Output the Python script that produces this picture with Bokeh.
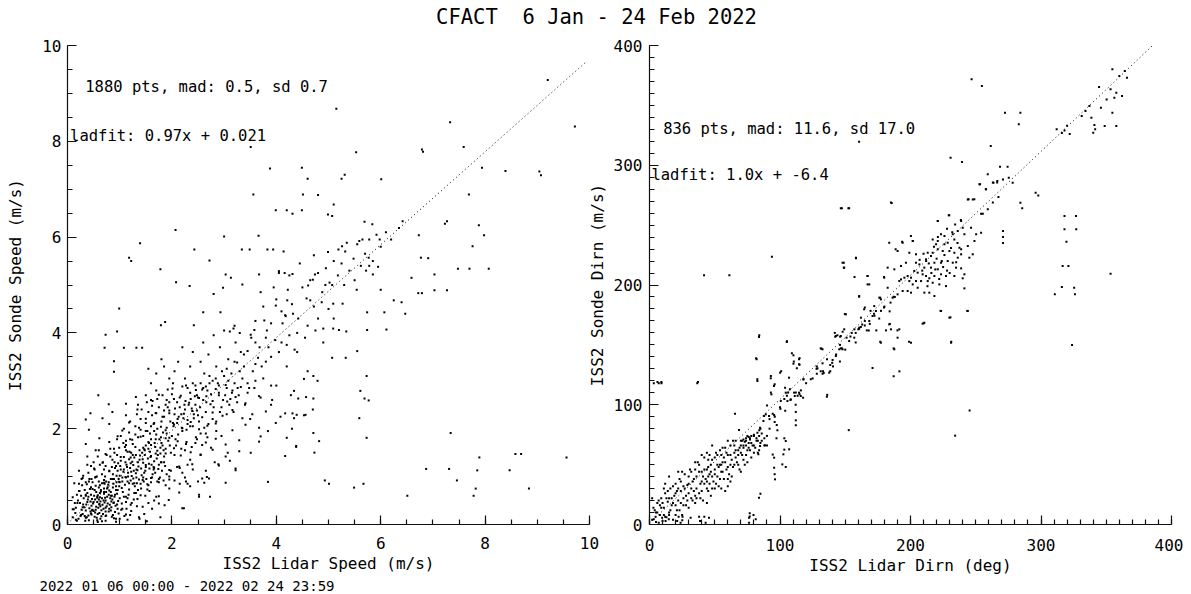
from bokeh.plotting import figure
from bokeh.models import Range1d, FixedTicker, Label, Div, Title
from bokeh.layouts import row, column
from bokeh.embed import file_html
from bokeh.resources import INLINE

FONT = "DejaVu Sans Mono"

# ---------------- data: wind speed (lidar, sonde) ----------------
speed_core = [(0.21,0.12),(0.27,0.31),(0.33,0.18),(0.36,0.42),(0.41,0.09),(0.44,0.27),(0.47,0.53),(0.52,0.16),(0.55,0.37),(0.58,0.61),(0.61,0.24),(0.63,0.48),(0.66,0.07),(0.69,0.33),(0.72,0.56),(0.74,0.19),(0.77,0.44),(0.8,0.71),(0.83,0.29),(0.86,0.52),(0.89,0.13),(0.92,0.39),(0.95,0.64),(0.98,0.23),(0.31,0.55),(0.38,0.66),(0.43,0.74),(0.49,0.44),(0.54,0.81),(0.59,0.35),(0.64,0.69),(0.68,0.22),(0.71,0.85),(0.76,0.58),(0.81,0.41),(0.87,0.77),(0.91,0.26),(0.97,0.49),(0.24,0.45),(0.29,0.22),(0.35,0.29),(0.39,0.52),(0.46,0.39),(0.51,0.6),(0.57,0.47),(0.62,0.57),(0.67,0.41),(0.73,0.5),(0.79,0.62),(0.84,0.36),(0.9,0.58),(0.96,0.33),(0.15,0.24),(0.18,0.08),(0.26,0.6),(0.32,0.36),(0.4,0.19),(0.45,0.62),(0.5,0.28),(0.56,0.14),(0.6,0.52),(0.65,0.3),(0.7,0.64),(0.75,0.38),(0.82,0.55),(0.88,0.45),(0.93,0.72),(1.0,0.55),(1.03,0.31),(1.06,0.68),(1.09,0.18),(1.12,0.47),(1.17,0.62),(1.22,0.28),(1.27,0.52),(1.33,0.38),(1.4,0.61),(1.47,0.22),(1.55,0.45),(1.62,0.33),(1.7,0.58),(1.78,0.15),(1.86,0.4),(0.12,0.32),(0.2,0.5),(0.23,0.7),(0.37,0.84),(0.42,0.95),(0.48,0.88),(0.53,0.98),(0.6,0.9),(0.35,0.6),(0.53,0.52),(0.61,0.43),(0.71,0.46),(0.47,0.3),(0.57,0.58),(0.63,0.38),(0.79,0.27),(0.52,0.72),(0.44,0.48),(0.66,0.55),(0.74,0.68),(0.85,0.6),(0.34,0.08),(0.58,0.05),(0.93,0.06),(1.15,0.1),(1.38,0.12),(1.52,0.07)]

speed_core2 = [(0.25,0.18),(0.3,0.42),(0.37,0.15),(0.42,0.34),(0.46,0.21),(0.5,0.47),(0.54,0.31),(0.58,0.22),(0.62,0.66),(0.65,0.17),(0.69,0.5),(0.73,0.27),(0.76,0.75),(0.8,0.33),(0.84,0.48),(0.87,0.2),(0.91,0.62),(0.95,0.42),(0.99,0.8),(1.04,0.44),(1.08,0.58),(1.13,0.33),(1.18,0.73),(1.23,0.45),(1.28,0.66),(1.34,0.53),(1.41,0.75),(1.49,0.6),(1.57,0.7),(1.66,0.5),(0.55,0.68),(0.6,0.77),(0.66,0.86),(0.7,0.75),(0.78,0.83),(0.83,0.68),(0.89,0.95),(0.94,0.88),(1.0,1.02),(1.05,0.9),(1.11,1.3),(1.16,1.0),(1.21,1.4),(1.26,0.96),(1.32,1.15),(1.38,1.35),(1.43,1.5),(1.49,1.12),(1.55,1.58),(1.61,1.25),(1.67,1.7),(1.73,1.45),(1.79,1.82),(1.84,1.55),(1.9,1.9),(1.96,1.65),(2.02,2.12),(2.07,1.78),(2.13,2.25),(2.19,2.02),(2.24,2.5),(2.3,2.1),(2.36,2.62),(2.42,2.22),(2.48,2.7),(2.54,2.45),(2.6,2.85),(2.66,2.68),(2.72,3.1),(2.78,2.58),(2.84,3.05),(2.9,2.9),(2.96,3.2),(3.02,2.7),(3.08,3.0),(3.14,3.15),(3.2,3.4),(3.26,2.85),(3.32,3.6),(3.38,3.3),(0.9,1.3),(0.82,1.42),(0.7,1.15),(0.62,1.25),(1.1,1.62),(1.2,1.78),(1.3,1.88),(1.4,1.98),(1.5,2.12),(1.6,2.05),(1.35,2.5),(1.5,2.7),(1.7,2.8),(1.9,2.6),(2.0,2.72),(2.2,2.88),(2.4,2.95),(1.25,0.85),(1.45,0.98),(1.65,1.15),(1.85,1.3),(2.05,1.45),(2.25,1.55),(2.45,1.7),(2.65,1.9),(2.85,2.15),(3.05,2.3),(3.25,2.55),(3.45,2.75),(1.15,0.55),(1.35,0.72),(1.55,0.82),(1.75,0.95),(1.95,1.0),(2.15,1.18),(2.35,1.35),(2.55,1.45),(2.75,1.6),(2.95,1.85),(0.45,0.78),(0.4,0.58),(0.33,0.72),(0.27,0.95),(0.22,0.85),(0.18,0.62),(0.14,0.45),(0.1,0.15),(0.16,0.35),(0.53,0.25),(0.63,0.12),(0.73,0.08),(0.85,0.16),(1.0,0.12),(1.2,0.2)]

speed_cloud = [(2.01,2.84),(2.27,2.9),(2.46,2.81),(2.65,2.88),(2.84,2.83),(3.03,2.91),(3.16,2.8),(3.32,2.87),(3.48,2.85),(1.12,2.52),(1.31,2.66),(1.63,2.58),(1.75,2.71),(1.88,2.5),(2.04,2.62),(2.17,2.69),(2.33,2.54),(2.52,2.64),(2.74,2.51),(2.90,2.7),(3.06,2.57),(3.22,2.66),(3.41,2.53),(3.67,2.68),(3.92,2.6),(0.67,2.22),(0.86,2.35),(1.12,2.28),(1.34,2.4),(1.50,2.21),(1.69,2.33),(1.82,2.25),(1.95,2.38),(2.11,2.2),(2.23,2.31),(2.39,2.37),(2.58,2.24),(2.78,2.34),(2.97,2.27),(3.16,2.39),(3.35,2.22),(3.54,2.3),(3.80,2.36),(4.08,2.25),(4.31,2.32),(4.53,2.28),(0.41,1.98),(0.80,2.1),(1.05,1.96),(1.18,2.13),(1.37,2.02),(1.53,1.95),(1.66,2.12),(1.79,2.04),(1.88,1.97),(2.04,2.09),(2.20,2.01),(2.36,2.14),(2.52,1.99),(2.68,2.06),(2.84,2.11),(3.16,1.97),(3.41,2.08),(3.67,2.02),(3.99,2.12),(0.35,1.68),(0.61,1.8),(0.80,1.72),(0.96,1.84),(1.12,1.66),(1.24,1.77),(1.40,1.83),(1.56,1.7),(1.69,1.78),(1.82,1.65),(1.95,1.81),(2.11,1.74),(2.27,1.68),(2.46,1.82),(2.65,1.71),(2.84,1.79),(3.03,1.67),(3.29,1.76),(3.67,1.73),(0.38,1.42),(0.54,1.55),(0.73,1.47),(0.89,1.58),(1.02,1.41),(1.15,1.52),(1.31,1.45),(1.47,1.57),(1.60,1.43),(1.72,1.54),(1.88,1.48),(2.04,1.59),(2.17,1.44),(2.36,1.51),(2.55,1.46),(2.78,1.56),(3.03,1.42),(3.29,1.53),(0.22,1.12),(0.38,1.25),(0.51,1.17),(0.67,1.29),(0.80,1.11),(0.93,1.22),(1.08,1.15),(1.21,1.28),(1.34,1.13),(1.50,1.24),(1.66,1.18),(1.79,1.3),(1.95,1.14),(2.14,1.21),(2.39,1.26),(2.65,1.12),(2.90,1.23),(3.22,1.17),(0.13,0.86),(0.29,0.97),(0.41,0.9),(0.54,0.99),(0.70,0.87),(0.86,0.95),(0.99,0.89),(1.12,0.98),(1.28,0.86),(1.44,0.93),(1.60,0.97),(1.75,0.88),(1.95,0.94),(2.27,0.9),(2.58,0.96),(3.03,0.87),(0.10,0.57),(0.22,0.7),(0.35,0.62),(0.48,0.74),(0.57,0.56),(0.70,0.68),(0.83,0.6),(0.96,0.72),(1.12,0.58),(1.31,0.66),(1.53,0.73),(1.75,0.59),(2.14,0.67),(2.52,0.62),(0.10,0.32),(0.19,0.45),(0.29,0.36),(0.38,0.47),(0.48,0.31),(0.61,0.42),(0.73,0.35),(0.89,0.46),(1.05,0.33),(1.21,0.41),(1.44,0.37),(1.75,0.44),(2.20,0.34),(0.16,0.1),(0.26,0.2),(0.35,0.14),(0.45,0.23),(0.57,0.09),(0.73,0.18),(0.93,0.12),(1.12,0.21),(1.37,0.15),(3.6,3.0),(3.8,3.4),(4.0,2.9),(4.2,3.3),(4.4,3.6),(4.6,3.2),(3.5,2.2),(3.9,2.5),(4.3,2.0),(4.7,2.4),(4.9,3.8),(5.1,4.3),(3.3,4.0),(3.6,3.8)]

speed_mid = [(0.62,0.82),(0.66,1.05),(0.7,0.93),(0.73,1.22),(0.77,0.78),(0.8,1.12),(0.83,0.95),(0.86,1.35),(0.88,0.85),(0.91,1.18),(0.94,1.02),(0.97,1.28),(1.0,0.88),(1.02,1.15),(1.05,0.98),(1.08,1.41),(1.1,0.83),(1.13,1.25),(1.16,1.08),(1.19,1.52),(1.21,0.92),(1.24,1.31),(1.27,1.12),(1.3,1.62),(1.33,0.86),(1.36,1.21),(1.39,1.44),(1.42,1.03),(1.45,1.29),(1.48,1.55),(1.51,0.95),(1.54,1.38),(1.57,1.17),(1.6,1.66),(1.63,1.05),(1.66,1.32),(1.69,1.48),(1.72,0.9),(1.75,1.25),(1.78,1.6),(1.81,1.12),(1.85,1.42),(1.88,0.82),(0.68,1.3),(0.75,1.45),(0.82,1.58),(0.9,1.5),(0.99,1.6),(1.07,1.7),(0.64,0.72),(0.72,1.0),(0.79,0.88),(0.85,1.2),(0.93,0.8),(0.96,1.12),(1.01,1.22),(1.04,0.76),(1.11,0.99),(1.14,1.2),(1.18,0.86),(1.2,1.18),(1.23,1.01),(1.26,1.24),(1.29,0.8),(1.31,1.07),(1.35,1.3),(1.37,0.94),(1.41,1.17),(1.44,1.36),(1.47,1.08),(1.5,1.2),(1.53,0.84),(1.56,1.27),(1.59,1.41),(1.62,0.98),(1.65,1.2),(1.68,1.08),(1.71,1.38),(1.74,1.16),(1.77,0.98),(1.8,1.3),(1.84,0.92),(1.87,1.22),(1.9,1.05),(0.56,1.0),(0.52,1.15),(0.46,0.95),(0.4,1.08),(0.35,0.88),(0.5,1.3),(0.58,1.42),(0.45,1.22),(0.6,1.55),(0.3,1.02),(0.28,0.82),(0.95,1.45),(1.12,1.55),(1.25,1.45),(1.18,1.36),(1.02,1.33),(0.87,1.05),(0.74,0.9),(0.98,0.95),(1.07,1.1),(1.22,1.1),(1.32,0.98),(1.15,0.9),(1.4,0.85),(1.46,0.9),(1.6,0.88),(1.95,0.75),(2.05,0.92),(2.15,0.85),(2.25,0.98),(2.35,0.8),(2.5,0.9),(2.62,0.87),(1.98,1.12),(2.1,1.2),(2.2,1.08),(2.3,1.25),(2.4,1.15)]

speed_upper = [(1.12,1.75),(1.18,1.92),(1.25,1.68),(1.3,2.05),(1.35,1.82),(1.4,2.2),(1.45,1.6),(1.5,1.95),(1.55,2.35),(1.6,1.78),(1.65,2.1),(1.7,1.88),(1.75,2.45),(1.8,1.7),(1.85,2.25),(1.9,2.02),(1.95,2.55),(2.0,1.85),(2.05,2.3),(2.1,2.12),(2.15,2.65),(2.2,1.95),(2.25,2.4),(2.3,2.18),(2.35,2.75),(2.4,2.05),(2.45,2.5),(2.5,2.28),(2.55,1.9),(2.6,2.6),(2.65,2.35),(2.7,2.1),(2.75,2.72),(2.8,2.45),(1.22,1.5),(1.28,1.4),(1.38,1.55),(1.48,1.45),(1.58,1.52),(1.68,1.62),(1.78,1.48),(1.88,1.58),(1.98,1.5),(2.08,1.65),(2.18,1.58),(2.28,1.72),(2.38,1.62),(2.48,1.78),(2.58,1.66),(2.68,1.82),(1.42,2.4),(1.52,2.55),(1.62,2.48),(1.72,2.62),(1.82,2.7),(1.92,2.82),(2.02,2.95),(1.33,2.3),(1.2,2.15),(1.08,2.0),(1.02,1.85),(0.95,1.78),(1.6,2.6),(1.88,1.8),(1.93,1.75),(1.97,2.15),(2.12,1.88),(2.22,2.22),(2.32,2.5),(2.42,2.3),(2.52,2.15),(2.62,2.02),(1.72,2.0),(1.8,2.15),(1.66,1.95),(1.55,1.72),(1.45,1.85),(1.62,2.28),(2.06,2.42),(2.26,2.58),(2.44,2.68),(2.58,2.82),(2.72,2.95),(1.85,2.38),(1.95,2.32),(2.15,2.45),(2.35,2.05),(2.48,2.38),(2.66,2.55),(2.78,2.2),(2.85,1.95),(2.92,2.35),(2.98,2.6),(1.76,1.78),(1.83,1.92),(2.03,2.05),(2.18,2.3),(2.28,1.98),(2.38,2.42),(1.5,1.65),(1.58,1.9),(1.7,2.32),(1.92,2.45),(2.1,2.55),(2.3,2.85),(2.55,2.95),(2.9,2.75),(3.05,2.85),(3.1,2.5),(3.2,2.95)]

speed_high = [(2.25,3.05),(2.35,3.3),(2.45,2.9),(2.55,3.4),(2.62,3.15),(2.7,3.55),(2.78,3.0),(2.85,3.3),(2.92,3.7),(3.0,3.1),(3.08,3.45),(3.15,2.75),(3.22,3.8),(3.3,3.2),(3.38,3.55),(3.45,2.95),(3.52,3.9),(3.6,3.35),(3.68,3.7),(3.75,3.05),(3.82,4.05),(3.9,3.5),(3.98,3.85),(2.4,3.6),(2.6,3.8),(2.8,3.95),(3.0,4.05),(3.2,4.15),(2.5,2.65),(2.68,2.8),(2.88,2.95),(3.05,3.25),(3.25,3.38),(3.45,3.62),(3.65,3.48),(3.85,3.7),(3.35,3.05),(3.55,3.2),(3.72,3.3),(3.12,2.62),(3.28,2.7),(3.4,2.5),(3.58,2.85),(3.7,2.65),(3.9,2.9),(2.95,2.45),(3.18,2.35),(2.2,3.7),(2.12,3.4),(2.05,3.2),(1.95,3.05),(1.85,3.3),(1.8,3.45),(1.7,3.15),(1.6,2.95),(1.55,3.25),(4.05,3.6),(4.12,4.2),(4.2,3.75),(4.25,3.95),(4.32,4.4),(4.18,4.35),(3.6,4.25),(3.75,4.55),(3.9,4.2),(4.0,4.7),(4.1,4.45),(4.22,4.9),(4.3,4.6),(4.42,4.3),(4.5,4.95),(4.58,4.72),(4.65,5.1),(4.72,4.55),(4.8,5.25),(4.88,4.85),(4.95,5.35),(5.02,5.05),(5.1,5.5),(5.18,5.2),(5.25,5.45),(5.32,5.7),(5.4,5.3),(5.48,5.55),(5.55,5.85),(5.62,5.4),(5.7,5.65),(5.78,5.95),(5.85,5.5),(5.92,6.05),(6.0,5.8),(6.1,6.1),(6.2,5.95),(4.4,4.0),(4.6,4.15),(4.8,4.3),(5.0,4.5),(3.8,3.9),(4.1,3.8),(4.35,3.65),(4.55,3.9),(4.75,4.05),(3.95,4.95),(4.25,5.2),(4.45,5.45),(3.7,4.85),(4.05,5.25),(5.3,5.0),(5.5,5.1),(5.65,5.95)]

speed_scatter = [(3.84,0.89),(4.93,0.92),(5.01,0.85),(5.49,0.77),(5.67,0.85),(6.51,0.60),(4.38,1.62),(4.71,1.91),(4.82,1.74),(5.73,1.81),(5.59,2.22),(5.69,2.63),(5.77,2.59),(5.61,2.79),(5.73,3.10),(5.55,3.62),(5.33,3.48),(5.07,3.48),(3.70,1.84),(3.84,1.95),(4.20,1.81),(4.34,2.22),(4.42,2.63),(4.57,2.66),(4.53,3.04),(4.71,3.10),(4.79,3.00),(4.28,2.70),(4.34,2.79),(4.17,2.32),(4.39,2.29),(4.56,2.29),(4.71,2.63),(3.07,1.50),(3.51,1.50),(3.11,1.33),(3.22,1.13),(2.67,0.99),(2.52,0.58),(2.23,0.34),(1.94,0.51),(2.30,0.85),(2.73,0.58),(2.82,1.30),(2.89,1.26),(2.71,0.96),(4.17,1.43),(4.73,1.50),(4.38,1.64),(7.34,1.91),(6.87,1.16),(7.31,1.16),(7.46,0.92),(7.82,0.75),(7.78,0.60),(7.85,1.13),(7.89,1.40),(8.47,1.13),(8.58,1.47),(8.69,1.47),(8.84,0.75),(9.56,1.40),(0.99,4.51),(0.73,3.96),(0.95,4.03),(0.71,3.69),(1.08,3.69),(1.32,3.69),(1.43,3.69),(0.89,3.41),(0.89,3.19),(0.59,2.70),(0.44,2.32),(0.35,2.19),(0.79,2.51),(1.87,4.23),(1.79,4.16),(2.42,4.16),(2.60,4.43),(2.93,4.43),(3.11,4.03),(3.18,4.09),(3.51,3.96),(3.58,4.06),(3.77,4.26),(3.99,4.57),(4.17,4.37),(4.21,4.68),(4.65,4.68),(4.87,4.64),(5.09,4.61),(5.27,4.61),(4.90,4.09),(5.09,4.09),(5.20,4.06),(5.34,4.03),(5.74,4.06),(6.11,4.07),(5.74,4.43),(6.07,4.43),(6.40,4.64),(6.47,4.40),(6.25,4.68)]

speed_outliers = [(5.15,8.68),(7.33,8.40),(9.20,9.28),(9.72,8.31),(3.51,7.88),(6.79,7.83),(6.81,7.78),(7.59,7.88),(5.53,7.77),(3.88,7.43),(4.49,7.45),(4.60,7.22),(5.31,7.30),(5.25,7.22),(6.01,7.21),(7.94,7.45),(8.39,7.38),(9.04,7.37),(9.07,7.29),(3.56,6.89),(4.51,6.89),(4.80,6.88),(5.10,6.68),(7.69,6.89),(4.20,6.56),(4.31,6.49),(4.49,6.56),(2.07,6.15),(1.39,5.87),(1.18,5.57),(1.22,5.50),(1.78,5.33),(2.08,5.06),(2.34,4.98),(2.43,5.74),(2.72,5.51),(3.00,6.01),(3.34,5.74),(3.49,5.74),(3.83,5.74),(3.94,5.74),(4.14,5.70),(3.66,6.03),(3.99,6.56),(4.99,6.47),(5.07,6.44),(5.69,6.32),(5.84,6.27),(6.42,6.33),(6.35,6.19),(7.23,6.28),(7.27,6.33),(7.88,6.25),(7.98,6.04),(6.73,6.04),(7.76,5.81),(7.48,5.34),(7.70,5.34),(8.07,5.34),(6.77,5.57),(6.91,5.56),(7.03,5.22),(6.59,5.15),(7.27,4.89),(7.03,4.89),(6.72,4.83),(6.79,4.83),(4.72,5.62),(4.74,5.22),(4.99,5.69),(5.19,5.74),(5.26,5.81),(5.35,5.88),(5.59,5.92),(5.77,5.57),(5.98,5.95),(3.03,5.22),(3.13,5.15),(3.35,5.01),(3.67,5.22),(4.05,5.29),(4.16,5.25),(4.31,5.23),(4.61,4.99),(4.70,5.11),(4.94,5.00),(5.07,5.00),(2.80,4.81),(2.98,4.94),(6.00,4.90),(5.54,4.90),(5.72,5.30),(5.85,5.22),(5.95,5.38),(5.78,5.40)]

speed_fit_slope = 0.97
speed_fit_intercept = 0.021
speed_fit_x = [0.0, 9.92]

# ---------------- data: wind direction (lidar, sonde) ----------------
dirn_low = [(2,4),(4,12),(5,2),(6,18),(8,8),(9,22),(10,3),(11,14),(12,26),(13,6),(14,19),(15,10),(16,30),(17,16),(18,4),(19,24),(20,34),(21,12),(22,20),(23,38),(24,28),(25,8),(26,16),(27,42),(28,24),(29,33),(30,14),(31,46),(32,22),(33,36),(34,28),(35,18),(36,40),(37,52),(38,26),(39,34),(40,44),(41,20),(42,56),(43,38),(44,30),(45,48),(46,42),(47,24),(48,54),(49,36),(50,46),(51,60),(52,40),(53,32),(54,50),(55,44),(56,64),(57,38),(58,52),(59,46),(60,58),(61,42),(62,66),(63,54),(64,48),(65,60),(66,70),(67,52),(68,62),(69,46),(70,66),(71,58),(72,64),(73,50),(74,70),(75,62),(76,68),(77,72),(78,56),(79,66),(80,74),(81,64),(82,70),(83,60),(84,74),(85,68),(86,76),(88,72),(90,66),(92,80),(18,32),(21,28),(24,18),(27,30),(30,26),(33,20),(36,30),(39,22),(42,34),(45,28),(48,40),(51,34),(54,38),(57,56),(60,48),(63,40),(66,56),(69,64),(72,54),(75,52),(44,46),(47,50),(50,42),(53,48),(56,52),(59,60),(62,50),(65,66),(68,58),(71,70),(74,66),(77,62),(80,60),(83,70),(35,24),(38,44),(41,40),(44,36),(47,44),(29,20),(32,30),(26,22),(23,12),(20,26),(17,22),(14,28),(11,8),(8,16),(6,10),(3,14),(2,22),(12,34),(15,40),(22,44),(40,58),(48,66),(55,30),(62,36),(70,44),(58,28),(44,18),(52,58),(46,58),(60,70),(70,70),(72,71),(74,72),(76,73),(78,74),(80,75),(73,69),(77,71),(3.3,4.3),(7.1,1.5),(9.7,5.7),(12.3,2.9),(14.8,4.3),(21.2,2.9),(23.8,1.5),(25.1,3.5),(31.5,5.7),(38.7,2.9),(43,1.5),(45.6,5.7),(76.3,5.7),(76.3,1.5),(81.4,4.3),(85,25.6),(76.8,9.3),(79.7,7.9),(76.8,6.6),(4.7,6.5),(12,6.5),(15,7.9),(22.3,6.5),(25.3,6.5),(38,6.5),(42,6.5)]

dirn_low2 = [(5,10),(7,20),(9,14),(11,30),(13,22),(16,12),(18,18),(20,8),(22,30),(24,36),(26,32),(28,16),(30,40),(32,44),(34,38),(36,22),(38,50),(40,36),(42,46),(44,60),(46,34),(48,30),(50,56),(52,50),(54,62),(56,44),(58,64),(60,38),(62,58),(64,70),(66,62),(68,50),(70,60),(72,66),(74,58),(76,64),(78,68),(80,66),(82,72),(84,62),(86,70),(88,66),(90,74),(35,46),(45,54),(55,58),(65,50),(75,74),(85,80),(50,30),(60,32),(40,28),(30,34),(20,16),(15,22),(10,18),(25,44),(35,52),(45,40),(55,50)]

dirn_trail = [(65.5,92.5),(68.6,78.9),(84.7,80.8),(87.3,86.4),(82.7,76.7),(87.8,90.6),(89.1,92),(95.5,91.4),(97.5,83.1),(98,78.7),(104.4,69.7),(107,62.8),(102.6,58.6),(95.5,55.8),(95.5,47.4),(96.2,37.7),(84.7,65.6),(83.4,58.6),(83.9,22.4),(104.4,48),(88.5,66.1),(91.6,90.6),(90,99.4),(94.4,92.5),(84.1,78.8),(95.9,85.6),(97.3,72),(103.3,72),(103.3,62.5),(101.8,50.2),(94.4,58.4),(95.9,42),(112.1,94),(112.1,87),(112.1,82.9),(83.9,156.6),(105.2,152.4),(110.3,141.3),(114.6,138),(114.6,133.8),(112.9,130.5),(110.3,134.3),(82.1,138),(82.7,119.8),(92.9,122.1),(95.4,115.7),(93.4,108.7),(100.1,126.8),(100.6,103.1),(103.9,114.2),(104.4,110.1),(105.7,103.1),(106.9,122.6),(110.8,110.1),(114.6,110.1),(118,121.3),(117.7,105.9),(115.9,107.3),(111.3,107.3),(108.3,104.5),(123.6,121.3),(128.2,125.9),(132.6,125.9),(128.7,130.4),(132.6,134.6),(137.7,126.8),(140.3,137.4),(142.8,140.7),(142.3,156.8),(146.1,156.8),(131.8,146.8),(135.9,106.7),(138.5,133.2),(146.6,147.1),(3.3,117.9),(7.1,117.9),(9.2,117.9),(36.6,117.9),(120,118),(125,122),(128,130),(133,128),(136,138),(140,135),(143,142),(146,150),(150,146),(155,160),(158,152),(162,165),(165,170),(168,162),(172,176),(176,172),(180,182),(184,178),(188,190),(100,98),(104,95),(108,104),(112,100),(116,112),(96,90),(92,88),(149.7,175.7),(165,181.2),(169.4,178.4),(172.4,174.3),(177.4,178.4),(179.7,181.2),(184.7,185.3),(160.6,163.4),(165,166.2),(166.5,162.1),(168.8,167.5),(173.8,162.1),(181.2,162.1),(184.2,167.5),(190,162.1),(176.8,152.6),(170.9,130.7),(187.1,123.8),(191.5,127.9),(187.1,147.1),(198.9,152.6),(210.1,168.1),(223,178.4),(230.6,173),(231.2,152.6),(243.5,178.4),(323.8,149.8),(245.3,95.2),(234.2,74.2),(152.7,78.8),(136.2,108.3),(105.3,153.1),(84.1,158),(81.7,138.9),(82.6,121.2),(37.1,119),(6.1,119),(9.1,119),(109.1,143),(110.6,136.1),(115,138.9),(115,133.4),(117.9,121.2),(115,108.8),(113.5,107.5),(107.6,113),(105.3,107.5),(112.1,110.2),(93,124),(93,110.2),(100.9,128),(103.3,104.8),(95.9,117.1),(100.3,96.6),(106.2,110.2),(128.2,132),(131.2,128),(133.5,126.6),(138.5,128),(140.6,132),(145.9,136.1),(147.4,147.1),(131.2,147.1),(142,160),(144,158),(148,161),(151,156),(154,157),(158,160),(160,163),(157,163),(163,167)]

dirn_cluster = [(252.8,284.1),(263.1,285.5),(266.4,285.5),(257.9,279.9),(267.4,273.5),(263.1,268.8),(254.1,259.6),(255.4,259.6),(259.2,263.2),(243.9,271.5),(247.7,271.5),(229.3,258.2),(220.9,253.4),(234.2,250.6),(238.8,253.4),(240,247.9),(241.3,242.3),(250.3,242.3),(254.1,243.7),(249,236.7),(246.4,247.9),(236.2,245.1),(232.4,242.3),(226,240.9),(223.4,242.3),(220.9,236.7),(219.6,234),(226,234),(228.5,235.3),(233.6,238.1),(237.5,231.2),(238.8,229.8),(243.9,232.6),(247.7,225.6),(245.1,222.8),(238.8,225.6),(236.2,222.8),(233.6,227),(229.8,228.4),(224.7,228.4),(220.9,229.8),(217,227),(213.2,227),(211.9,221.4),(215.7,224.2),(218.3,218.6),(223.4,218.6),(228.5,220),(232.4,218.6),(234.9,214.5),(238.8,213.9),(241.3,208.9),(240,205.6),(233.6,207.5),(227.2,207.5),(223.4,208.9),(220.9,213.1),(215.7,214.5),(210.6,214.5),(206.8,217.2),(204.2,218.6),(202.9,211.7),(205.5,210.3),(209.3,208.9),(211.9,207.5),(214.4,205.6),(218.3,207.5),(217,201.9),(213.2,203.3),(208.1,203.3),(204.2,203.3),(200.4,206.1),(197.8,207.5),(195.3,206.1),(192.7,204.7),(191.4,203.3),(199.1,203.3),(201.7,200.5),(205.5,197.7),(210.6,193.6),(214.4,193.6),(218.3,190.8),(222.1,200.5),(227.2,199.1),(241.3,197.2),(243.9,178.3),(229.8,172.7),(223.4,178.3),(210.6,168.5),(200.4,193.6),(197.8,195),(194,195),(190.1,192.2),(186.3,189.4),(182.5,197.7),(179.9,206.1),(182.5,214.5),(187.6,213.1),(192.7,215.9),(196.5,218.6),(199.1,227),(204.2,225.6),(201.7,236.7),(194,235.3),(190.1,228.4),(183.7,235.3),(176.1,189.4),(177.3,188),(172.2,182.4),(173.5,178.3),(170.9,174.1),(168.4,169.9),(164.5,179.7),(162,172.7),(160.7,164.4),(156.9,156),(153,153.2),(150.5,175.5),(149.2,163),(146.6,157.4),(142.8,157.4),(145.4,146.3),(147.9,146.3),(132.6,146.3),(167.1,207.5),(168.4,200.5),(160.7,190.8),(158.2,222.8),(147.9,218.6),(149.2,214.5),(185,268.8),(146.6,264),(153,264),(209.3,167.7),(231.1,151.8),(200.4,151.8),(187.6,146.3),(177.3,151.8),(190.1,156),(183.7,167.1),(185,163),(191.4,163),(212,220),(216,210),(220,222),(225,215),(228,212),(222,205),(214,218),(210,226),(218,232),(226,225),(231,231),(235,219),(230,210),(213,199),(207,221),(219,213),(224,220),(217,238),(209,212),(221,240),(232,244),(236,235),(228,247)]

dirn_outliers = [(246.8,371.8),(254.7,366.2),(272.4,343.9),(284.2,343.9),(283.0,334.2),(261.5,316.1),(230.7,306.3),(239.5,302.7),(268.6,298.8),(274.4,298.8),(160.6,319.7),(259.2,292.4),(263.6,285.4),(266.5,286.8),(270.9,288.0),(275.3,289.6),(278.3,285.4),(253.3,284.1),(257.7,279.9),(244.5,271.6),(248.9,271.6),(295.9,277.1),(297.9,274.8),(284.2,268.7),(285.6,264.0),(185.6,268.5),(147.4,264.0),(152.4,264.0),(220.9,253.4),(229.7,258.2),(238.6,254.3),(270.9,245.1),(270.9,240.0),(270.9,235.0),(318.0,257.6),(326.8,257.6),(318.0,246.5),(327.0,246.5),(319.5,236.2),(316.6,215.9),(321.0,215.9),(316.0,198.3),(325.4,197.7),(326.0,192.2),(310.6,192.2),(353.3,209.4),(340.9,333.6),(348.8,332.8),(357.7,332.8),(340.0,327.2),(341.5,330.0),(312,330),(316,327),(320,333),(322,326),(318,329),(344.5,365.4),(354.7,380.1),(353.3,363.4),(356.2,356.4),(350.3,355.0),(345.9,348.0),(354.7,343.9),(357.7,360.6),(362.1,357.8),(360.0,374.5),(364.2,378.7),(365.9,373.1),(334.1,345.3),(337.1,349.5),(338.6,339.7),(331.2,341.1),(41.8,208.1),(61.2,208.1),(93.8,223.6),(148.9,218.6),(148.9,214.4),(158.2,222.3),(157.1,206.7),(167.1,207.5),(167.1,200.5),(160.6,190.2),(176.8,189.4),(187.1,190.2),(179.7,206.7),(188.6,229.8),(193.6,236.2),(200.3,240.9),(201.8,236.7)]

dirn_line_slope = 1.035
dirn_line_intercept = 1.0
dirn_fit_x = [0.0, 385.6]

title_text = "CFACT  6 Jan - 24 Feb 2022"
footer_text = "2022 01 06 00:00 - 2022 02 24 23:59"
speed_stats = "1880 pts, mad: 0.5, sd 0.7"
speed_fit_text = "ladfit: 0.97x + 0.021"
dirn_stats = "836 pts, mad: 11.6, sd 17.0"
dirn_fit_text = "ladfit: 1.0x + -6.4"

speed_major = [0, 2, 4, 6, 8, 10]
speed_minor = [i * 0.5 for i in range(21)]
dirn_major = [0, 100, 200, 300, 400]
dirn_minor = [i * 10 for i in range(41)]


def split(*groups):
    xs, ys = [], []
    for g in groups:
        for a, b in g:
            xs.append(a)
            ys.append(b)
    return xs, ys


lidar_speed, sonde_speed = split(speed_core, speed_core2, speed_cloud, speed_mid, speed_upper,
                                 speed_high, speed_scatter, speed_outliers)
lidar_dirn, sonde_dirn = split(dirn_low, dirn_low2, dirn_trail, dirn_cluster, dirn_outliers)


def panel(width, bl, br, xr, yr, xmaj, xmin, ymaj, ymin, xlabel, ylabel, ystand, ylab_stand,
          xstand, **kw):
    p = figure(width=width, height=564, x_range=Range1d(*xr), y_range=Range1d(*yr),
               output_backend="svg", toolbar_location=None,
               min_border_left=bl, min_border_right=br, min_border_top=15, min_border_bottom=70, **kw)
    p.grid.visible = False
    p.outline_line_color = None
    p.background_fill_color = "white"
    p.xaxis.ticker = FixedTicker(ticks=xmaj, minor_ticks=xmin)
    p.yaxis.ticker = FixedTicker(ticks=ymaj, minor_ticks=ymin)
    p.xaxis.axis_label = xlabel
    p.yaxis.axis_label = ylabel
    for ax in (p.xaxis[0], p.yaxis[0]):
        ax.major_tick_in = 9
        ax.major_tick_out = 0
        ax.minor_tick_in = 5
        ax.minor_tick_out = 0
        ax.axis_line_color = "#111111"
        ax.axis_line_width = 1.2
        ax.major_tick_line_color = "#111111"
        ax.minor_tick_line_color = "#111111"
        ax.major_tick_line_width = 1.2
        ax.minor_tick_line_width = 1.2
        ax.major_label_text_font = FONT
        ax.major_label_text_font_size = "16px"
        ax.major_label_text_color = "black"
        ax.axis_label_text_font = FONT
        ax.axis_label_text_font_size = "16px"
        ax.axis_label_text_font_style = "normal"
        ax.axis_label_text_color = "black"
    p.xaxis.major_label_standoff = xstand
    p.xaxis.axis_label_standoff = 2
    p.yaxis.major_label_standoff = ystand
    p.yaxis.axis_label_standoff = ylab_stand
    return p


p1 = panel(600, 67, 11, (0, 10), (0, 10), speed_major, speed_minor, speed_major, speed_minor,
           "ISS2 Lidar Speed (m/s)", "ISS2 Sonde Speed (m/s)", 6, 14, 12)
p1.border_fill_color = "white"
p1.scatter(lidar_speed, sonde_speed, marker="square", size=2, fill_color="black", line_color=None)
p1.line(speed_fit_x, [speed_fit_slope * v + speed_fit_intercept for v in speed_fit_x],
        line_color="black", line_width=1, line_dash="1 3")
p1.add_layout(Label(x=0.34, y=9.14, text=speed_stats, text_font=FONT, text_font_size="15.5px",
                    text_baseline="middle", text_color="black"))
p1.add_layout(Label(x=0.05, y=8.12, text=speed_fit_text, text_font=FONT, text_font_size="15.5px",
                    text_baseline="middle", text_color="black"))
p1.add_layout(Title(text=footer_text, align="left", offset=-28, standoff=0,
                    text_font=FONT, text_font_size="14px", text_font_style="normal",
                    text_color="black"), "below")

p2 = panel(600, 66, 12, (0, 400), (0, 400), dirn_major, dirn_minor, dirn_major, dirn_minor,
           "ISS2 Lidar Dirn (deg)", "ISS2 Sonde Dirn (m/s)", 7, 4, 14, margin=(0, 0, 0, -17))
p2.border_fill_color = None
p2.scatter(lidar_dirn, sonde_dirn, marker="square", size=2, fill_color="black", line_color=None)
p2.line(dirn_fit_x, [dirn_line_slope * v + dirn_line_intercept for v in dirn_fit_x],
        line_color="black", line_width=1, line_dash="1 3")
p2.add_layout(Label(x=10.5, y=330, text=dirn_stats, text_font=FONT, text_font_size="15.5px",
                    text_baseline="middle", text_color="black"))
p2.add_layout(Label(x=1.5, y=292, text=dirn_fit_text, text_font=FONT, text_font_size="15.5px",
                    text_baseline="middle", text_color="black"))

title = Div(text=title_text, width=1183, height=30, margin=0,
            styles={"font-family": FONT, "font-size": "20.5px", "text-align": "center",
                    "white-space": "pre", "line-height": "34px", "text-indent": "10px",
                    "color": "black"})

layout = column(title, row(p1, p2), spacing=0)
open("out.html", "w").write(file_html(layout, INLINE))
